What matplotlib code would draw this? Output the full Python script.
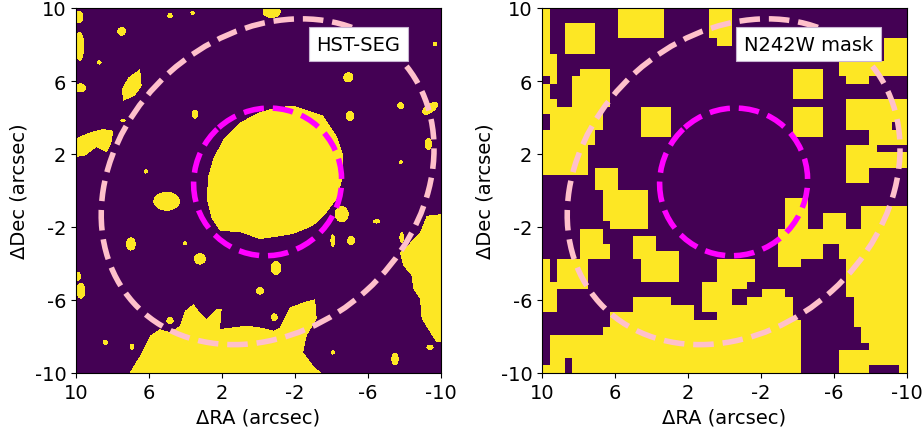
import numpy as np
import matplotlib
matplotlib.use('Agg')
import matplotlib.pyplot as plt
from matplotlib.path import Path
from matplotlib.patches import Ellipse

# ------------------------------------------------------------
# DATA (RA/Dec offsets in arcsec)
# ------------------------------------------------------------

# HST segmentation: large segments as polygons (dRA, dDec)
seg_center = [(-1.91, 4.65), (-3.55, 4.10), (-4.28, 3.00), (-4.65, 1.91), (-4.65, 0.81),
              (-4.28, -0.47), (-3.74, -1.20), (-3.00, -1.93), (-1.91, -2.38), (-0.81, -2.56),
              (-0.08, -2.66), (1.01, -2.29), (2.11, -2.20), (2.56, -1.56), (2.84, -0.47),
              (2.75, 0.81), (2.48, 1.73), (1.93, 2.82), (1.01, 3.74), (-0.08, 4.29), (-1.00, 4.56)]
seg_bottom = [(7.13, -10.1), (6.49, -9.05), (5.95, -7.96), (5.40, -7.59), (4.85, -7.77),
              (4.30, -7.41), (4.03, -6.59), (3.57, -6.22), (3.21, -6.68), (2.84, -7.04),
              (2.29, -6.49), (2.02, -6.49), (2.11, -7.59), (1.38, -7.50), (0.65, -7.41),
              (-0.08, -7.50), (-0.81, -7.68), (-1.18, -7.50), (-1.73, -6.40), (-2.45, -6.13),
              (-3.10, -5.95), (-3.19, -7.04), (-2.64, -7.96), (-2.45, -8.87), (-3.00, -9.60),
              (-3.55, -10.1)]
seg_right = [(-10.1, -1.29), (-9.22, -1.38), (-8.85, -2.29), (-8.48, -2.66), (-8.12, -3.11),
             (-7.75, -3.39), (-7.93, -4.12), (-8.39, -4.67), (-8.48, -5.40), (-8.85, -5.95),
             (-8.94, -7.04), (-9.40, -7.77), (-9.76, -8.32), (-10.1, -8.32)]
seg_left_long = [(6.49, 6.66), (6.40, 5.74), (6.77, 5.19), (7.41, 4.92), (7.50, 5.56), (7.13, 6.20)]
seg_left_cloud = [(10.1, 2.82), (9.23, 3.19), (8.50, 3.37), (7.96, 3.28), (8.05, 2.64),
                  (8.32, 2.09), (8.87, 2.37), (9.51, 1.91), (10.1, 1.82)]
seg_polygons = [seg_center, seg_bottom, seg_right, seg_left_long, seg_left_cloud]

# small segments as ellipses: (dRA, dDec, a, b, angle)
seg_blobs = [
    (7.50, 8.72, 0.24, 0.24, 0), (4.85, 9.58, 0.15, 0.15, 0), (3.61, 9.73, 0.12, 0.12, 0),
    (8.72, 7.02, 0.12, 0.12, 0), (9.84, 9.50, 0.25, 0.35, 0), (9.80, 7.90, 0.25, 0.80, 0),
    (9.75, 5.62, 0.30, 0.25, 0), (-0.72, 9.80, 0.50, 0.35, 0), (-4.92, 6.20, 0.28, 0.28, 0),
    (-7.79, 4.65, 0.19, 0.19, 0), (-5.01, 4.07, 0.24, 0.28, 0), (-9.40, 4.50, 0.50, 0.25, 145),
    (-9.67, 8.03, 0.13, 0.13, 0), (-9.31, 2.55, 0.20, 0.35, 0), (-7.79, 1.55, 0.11, 0.11, 0),
    (3.48, 4.19, 0.18, 0.25, 0), (7.42, 3.83, 0.15, 0.10, 0), (6.18, 1.05, 0.12, 0.12, 0),
    (5.03, -0.59, 0.73, 0.52, 0), (-4.56, -1.29, 0.38, 0.45, 0), (-6.47, -1.69, 0.20, 0.12, 0),
    (6.99, -2.93, 0.27, 0.36, 0), (4.03, -2.89, 0.12, 0.12, 0), (3.21, -3.75, 0.33, 0.31, 0),
    (-4.07, -2.75, 0.13, 0.35, 0), (-5.07, -2.75, 0.22, 0.25, 0), (-0.96, -4.25, 0.30, 0.38, 0),
    (-0.08, -5.49, 0.22, 0.22, 0), (9.73, -5.49, 0.25, 0.45, 0), (9.88, -4.70, 0.15, 0.25, 0),
    (4.85, -7.13, 0.20, 0.20, 0), (8.39, -8.32, 0.15, 0.15, 0), (6.93, -8.56, 0.12, 0.18, 0),
    (-7.85, -2.57, 0.13, 0.30, 0), (-7.48, -9.23, 0.20, 0.35, 0), (-9.40, -8.60, 0.20, 0.15, 0),
    (-4.07, -8.87, 0.12, 0.12, 0), (-0.87, -6.95, 0.18, 0.22, 0),
]

# N242W mask: 48x48 grid (row 0 = top), yellow column runs per row
n242w_runs = [
    [(0, 0), (10, 15), (22, 24)],
    [(0, 0), (10, 15), (22, 24)],
    [(0, 0), (3, 6), (10, 15), (22, 24)],
    [(0, 0), (3, 6), (10, 15), (22, 24)],
    [(0, 0), (3, 6), (23, 24), (45, 47)],
    [(0, 0), (3, 6), (45, 47)],
    [(0, 1), (45, 47)],
    [(0, 1), (39, 47)],
    [(0, 1), (5, 8), (33, 36), (39, 47)],
    [(1, 1), (4, 8), (33, 36), (40, 42)],
    [(0, 0), (4, 8), (33, 36)],
    [(0, 0), (4, 8), (33, 36)],
    [(0, 1), (4, 8), (40, 47)],
    [(0, 7), (13, 16), (33, 36), (40, 47)],
    [(1, 7), (13, 16), (33, 36), (40, 47)],
    [(1, 7), (13, 16), (33, 36), (40, 45), (47, 47)],
    [(0, 6), (13, 16), (33, 36), (43, 47)],
    [(0, 6), (43, 47)],
    [(0, 5), (40, 43)],
    [(0, 5), (40, 47)],
    [(0, 5), (40, 47)],
    [(0, 5), (7, 9), (40, 42)],
    [(7, 9), (40, 42)],
    [(7, 9)],
    [(8, 13)],
    [(8, 13), (32, 34)],
    [(8, 13), (32, 34), (42, 47)],
    [(8, 13), (32, 34), (37, 39), (42, 47)],
    [(9, 13), (32, 34), (37, 39), (42, 47)],
    [(5, 7), (31, 47)],
    [(5, 7), (12, 14), (31, 47)],
    [(5, 8), (12, 14), (31, 36), (39, 47)],
    [(5, 8), (12, 17), (31, 36), (39, 47)],
    [(0, 0), (2, 5), (13, 17), (23, 27), (31, 33), (40, 47)],
    [(0, 0), (2, 5), (13, 17), (23, 27), (40, 47)],
    [(0, 0), (2, 5), (13, 17), (23, 27), (40, 47)],
    [(0, 5), (21, 26), (40, 47)],
    [(0, 1), (21, 24), (29, 31), (40, 47)],
    [(0, 1), (12, 16), (21, 24), (27, 32), (41, 47)],
    [(0, 1), (12, 19), (21, 32), (41, 47)],
    [(9, 19), (23, 32), (41, 47)],
    [(9, 33), (41, 47)],
    [(8, 33), (42, 47)],
    [(1, 33), (42, 47)],
    [(1, 33), (43, 47)],
    [(1, 33), (39, 47)],
    [(1, 2), (4, 33), (39, 47)],
    [(0, 2), (4, 33), (39, 42), (47, 47)],
]

# apertures (centre dRA, dDec, width, height, angle)
outer_ell = (-0.5, 0.48, 19.8, 16.1, 138)
inner_ell = (-0.5, 0.47, 8.2, 8.0, 138)

tick_vals = [10, 6, 2, -2, -6, -10]
tick_labels = ['10', '6', '2', '-2', '-6', '-10']
panel_titles = ['HST-SEG', 'N242W mask']

# ------------------------------------------------------------
# build the two masks
# ------------------------------------------------------------
N = 365
ra = 10 - (np.arange(N) + 0.5) * 20 / N
dec = 10 - (np.arange(N) + 0.5) * 20 / N
RA, DEC = np.meshgrid(ra, dec)
pts = np.column_stack([RA.ravel(), DEC.ravel()])

seg = np.zeros(N * N, dtype=bool)
for poly in seg_polygons:
    seg |= Path(poly).contains_points(pts)
seg = seg.reshape(N, N)
for x0, y0, a, b, ang in seg_blobs:
    t = np.deg2rad(ang)
    dx = RA - x0
    dy = DEC - y0
    xp = dx * np.cos(t) + dy * np.sin(t)
    yp = -dx * np.sin(t) + dy * np.cos(t)
    seg |= (xp / a) ** 2 + (yp / b) ** 2 <= 1

mask = np.zeros((48, 48))
for i, runs in enumerate(n242w_runs):
    for c0, c1 in runs:
        mask[i, c0:c1 + 1] = 1

# ------------------------------------------------------------
# plot
# ------------------------------------------------------------
fig = plt.figure(figsize=(9.23, 4.31), dpi=100)
ax1 = fig.add_axes([76 / 923, 57 / 431, 365 / 923, 365 / 431])
ax2 = fig.add_axes([542 / 923, 57 / 431, 365 / 923, 365 / 431])

label_pos = [(0.774, 0.901), (0.731, 0.901)]

for ax, img, title, lpos in zip([ax1, ax2], [seg.astype(float), mask], panel_titles, label_pos):
    ax.imshow(img, cmap='viridis', vmin=0, vmax=1, origin='upper',
              extent=[10, -10, -10, 10], interpolation='nearest')
    for (x0, y0, w, h, ang), col in zip([outer_ell, inner_ell], ['pink', 'magenta']):
        ax.add_patch(Ellipse((x0, y0), w, h, angle=ang, fill=False,
                             edgecolor=col, lw=4, ls='--'))
    ax.set_xlim(10, -10)
    ax.set_ylim(-10, 10)
    ax.set_xticks(tick_vals)
    ax.set_xticklabels(tick_labels, fontsize=14)
    ax.set_yticks(tick_vals)
    ax.set_yticklabels(tick_labels, fontsize=14)
    ax.set_xlabel('ΔRA (arcsec)', fontsize=14)
    ax.set_ylabel('ΔDec (arcsec)', fontsize=14)
    ax.text(lpos[0], lpos[1], title, transform=ax.transAxes, ha='center', va='center',
            fontsize=14, bbox=dict(boxstyle='square,pad=0.4', facecolor='white',
                                   edgecolor='#c8b4d2', lw=0.8))

fig.savefig('out.png', dpi=100)
